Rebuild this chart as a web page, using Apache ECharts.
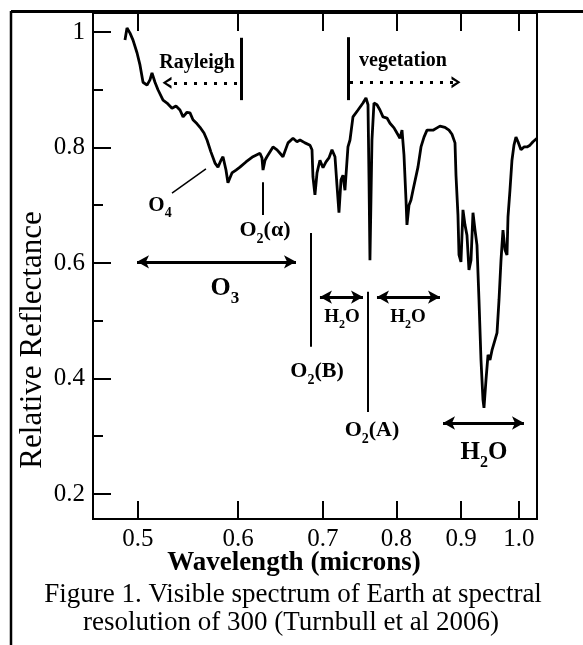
<!DOCTYPE html>
<html>
<head>
<meta charset="utf-8">
<script src="https://cdn.jsdelivr.net/npm/echarts@6/dist/echarts.min.js"></script>
<style>
  html, body { margin: 0; padding: 0; background: #fff; }
  #chart { width: 583px; height: 645px; }
</style>
</head>
<body>
<div id="chart"></div>
<script>
// spectrum (wavelength in microns, relative reflectance)
var wavelength = [0.4883, 0.4901, 0.4928, 0.4955, 0.4991, 0.5018, 0.5046, 0.5083, 0.5110, 0.5129,
  0.5157, 0.5185, 0.5233, 0.5271, 0.5319, 0.5358, 0.5397, 0.5427, 0.5466, 0.5496,
  0.5526, 0.5567, 0.5597, 0.5638, 0.5669, 0.5710, 0.5752, 0.5783, 0.5815, 0.5836,
  0.5868, 0.5889, 0.5932, 0.5976, 0.6019, 0.6085, 0.6163, 0.6242, 0.6265, 0.6277,
  0.6300, 0.6322, 0.6392, 0.6439, 0.6474, 0.6509, 0.6569, 0.6629, 0.6677, 0.6714,
  0.6775, 0.6837, 0.6862, 0.6874, 0.6899, 0.6925, 0.6962, 0.7001, 0.7039, 0.7077,
  0.7116, 0.7155, 0.7181, 0.7207, 0.7234, 0.7260, 0.7286, 0.7326, 0.7353, 0.7393,
  0.7461, 0.7529, 0.7570, 0.7598, 0.7612, 0.7625, 0.7639, 0.7653, 0.7681, 0.7723,
  0.7765, 0.7808, 0.7865, 0.7908, 0.7966, 0.8009, 0.8053, 0.8083, 0.8112, 0.8142,
  0.8156, 0.8186, 0.8216, 0.8246, 0.8321, 0.8367, 0.8413, 0.8459, 0.8552, 0.8614,
  0.8661, 0.8740, 0.8804, 0.8852, 0.8901, 0.8917, 0.8949, 0.8966, 0.8998, 0.9031,
  0.9064, 0.9097, 0.9130, 0.9164, 0.9197, 0.9231, 0.9264, 0.9298, 0.9332, 0.9366,
  0.9383, 0.9417, 0.9452, 0.9486, 0.9521, 0.9573, 0.9608, 0.9643, 0.9678, 0.9713,
  0.9748, 0.9784, 0.9802, 0.9837, 0.9873, 0.9909, 0.9945, 0.9982, 1.0036, 1.0091,
  1.0147, 1.0202, 1.0258, 1.0333];
var reflectance = [0.986, 1.007, 0.998, 0.986, 0.964, 0.943, 0.913, 0.908, 0.917, 0.929,
  0.913, 0.900, 0.882, 0.877, 0.868, 0.872, 0.865, 0.853, 0.861, 0.860,
  0.848, 0.841, 0.835, 0.825, 0.813, 0.792, 0.773, 0.766, 0.778, 0.784,
  0.761, 0.739, 0.756, 0.761, 0.766, 0.775, 0.784, 0.790, 0.782, 0.761,
  0.778, 0.784, 0.801, 0.796, 0.790, 0.784, 0.808, 0.816, 0.810, 0.813,
  0.808, 0.804, 0.796, 0.749, 0.718, 0.756, 0.778, 0.765, 0.775, 0.782,
  0.796, 0.784, 0.735, 0.687, 0.744, 0.752, 0.726, 0.801, 0.813, 0.853,
  0.865, 0.877, 0.886, 0.874, 0.744, 0.605, 0.709, 0.813, 0.877, 0.874,
  0.865, 0.853, 0.851, 0.842, 0.834, 0.825, 0.816, 0.830, 0.787, 0.709,
  0.666, 0.700, 0.709, 0.726, 0.766, 0.801, 0.818, 0.830, 0.830, 0.834,
  0.837, 0.835, 0.830, 0.823, 0.808, 0.752, 0.683, 0.614, 0.602, 0.692,
  0.666, 0.648, 0.588, 0.605, 0.687, 0.657, 0.631, 0.536, 0.432, 0.363,
  0.349, 0.397, 0.441, 0.432, 0.449, 0.467, 0.479, 0.536, 0.605, 0.657,
  0.623, 0.614, 0.680, 0.726, 0.778, 0.804, 0.818, 0.810, 0.796, 0.801,
  0.801, 0.804, 0.810, 0.816];

var xTicks = [0.5, 0.6, 0.7, 0.8, 0.9, 1.0];
var xTickLabels = ['0.5', '0.6', '0.7', '0.8', '0.9', '1.0'];
var yTicks = [0.2, 0.4, 0.6, 0.8, 1.0];
var yTickLabels = ['0.2', '0.4', '0.6', '0.8', '1'];
var yMinorTicks = [0.3, 0.5, 0.7, 0.9];

// axis ranges (wavelength axis is logarithmic)
var xMin = 0.4607, xMax = 1.0333;
var yMin = 0.1567, yMax = 1.0329;

var serif = "'Liberation Serif', 'Times New Roman', serif";
var lx = function (w) { return Math.log(w); };

var spectrum = wavelength.map(function (w, i) {
  return [lx(w), reflectance[i]];
});

// label text: O2, H2O ... with subscripts
function chem(size) {
  var sub = Math.round(size * 0.65);
  return {
    m: { fontSize: size, fontWeight: 'bold', fontFamily: serif, lineHeight: size },
    s: { fontSize: sub, fontWeight: 'bold', fontFamily: serif, lineHeight: sub,
      padding: [Math.round(size * 0.8), 0, 0, 0] }
  };
}

function note(w, r, text, size) {
  return {
    coord: [lx(w), r],
    label: { formatter: text, rich: chem(size), fontSize: size, fontWeight: 'bold', fontFamily: serif }
  };
}

var chevron = 'path://M0,12 L10,0 L20,12 L15,12 L10,5 L5,12 Z';

function seg(w1, r1, w2, r2, width, opts) {
  opts = opts || {};
  return [
    { coord: [lx(w1), r1], symbol: opts.from || 'none', symbolSize: opts.size || [10, 12],
      lineStyle: { color: '#000', width: width, type: opts.type || 'solid' } },
    { coord: [lx(w2), r2], symbol: opts.to || 'none', symbolSize: opts.size || [10, 12] }
  ];
}

var notes = [
  note(0.5567, 0.946, 'Rayleigh', 20),
  note(0.8097, 0.950, 'vegetation', 20),
  note(0.5204, 0.700, '{m|O}{s|4}', 21),
  note(0.6300, 0.657, '{m|O}{s|2}{m|(α)}', 22),
  note(0.5857, 0.557, '{m|O}{s|3}', 26),
  note(0.6925, 0.413, '{m|O}{s|2}{m|(B)}', 22),
  note(0.7247, 0.506, '{m|H}{s|2}{m|O}', 19),
  note(0.8171, 0.506, '{m|H}{s|2}{m|O}', 19),
  note(0.7653, 0.311, '{m|O}{s|2}{m|(A)}', 22),
  note(0.9383, 0.271, '{m|H}{s|2}{m|O}', 25)
];

var guides = [
  seg(0.6030, 0.990, 0.6030, 0.882, 3),
  seg(0.5987, 0.912, 0.5271, 0.912, 3, { type: [3, 7], to: chevron, size: [12, 9] }),
  seg(0.7326, 0.991, 0.7326, 0.882, 3),
  seg(0.7353, 0.913, 0.8917, 0.913, 3, { type: [3, 7], to: chevron, size: [12, 9] }),
  seg(0.5319, 0.721, 0.5658, 0.763, 1.5),
  seg(0.6277, 0.740, 0.6277, 0.683, 2),
  seg(0.4991, 0.602, 0.6665, 0.602, 3, { from: 'arrow', to: 'arrow' }),
  seg(0.6849, 0.652, 0.6849, 0.455, 2),
  seg(0.6962, 0.541, 0.7529, 0.541, 3, { from: 'arrow', to: 'arrow' }),
  seg(0.7598, 0.550, 0.7598, 0.342, 2),
  seg(0.7723, 0.541, 0.8661, 0.541, 3, { from: 'arrow', to: 'arrow' }),
  seg(0.8709, 0.323, 1.0091, 0.323, 3, { from: 'arrow', to: 'arrow' })
];

function pick(ticks, labels, fn) {
  return function (v) {
    for (var i = 0; i < ticks.length; i++) {
      if (Math.abs(v - fn(ticks[i])) < 1e-6) return labels[i];
    }
    return '';
  };
}
var same = function (v) { return v; };

function frameLine() {
  return { show: true, onZero: false, lineStyle: { color: '#000', width: 2 } };
}

var chart = echarts.init(document.getElementById('chart'));
chart.setOption({
  animation: false,
  grid: { left: 93, right: 46, top: 13, bottom: 126, show: true, borderColor: '#000', borderWidth: 2 },
  xAxis: [
    {
      type: 'value', position: 'bottom', min: lx(xMin), max: lx(xMax),
      axisLine: frameLine(),
      axisTick: { inside: true, length: 18, lineStyle: { color: '#000', width: 2 }, customValues: xTicks.map(lx) },
      axisLabel: { customValues: xTicks.map(lx), formatter: pick(xTicks, xTickLabels, lx),
        fontSize: 25, fontFamily: serif, color: '#000', margin: 8 },
      splitLine: { show: false }
    },
    {
      type: 'value', position: 'top', min: lx(xMin), max: lx(xMax),
      axisLine: frameLine(),
      axisTick: { inside: true, length: 18, lineStyle: { color: '#000', width: 2 }, customValues: xTicks.map(lx) },
      axisLabel: { show: false },
      splitLine: { show: false }
    }
  ],
  yAxis: [
    {
      type: 'value', position: 'left', min: yMin, max: yMax,
      axisLine: frameLine(),
      axisTick: { show: true, inside: true, length: 18, lineStyle: { color: '#000', width: 2 }, customValues: yTicks },
      axisLabel: { customValues: yTicks, formatter: pick(yTicks, yTickLabels, same),
        fontSize: 25, fontFamily: serif, color: '#000', margin: 8 },
      splitLine: { show: false }
    },
    {
      // minor ticks: a right-hand axis pulled across to the left edge
      type: 'value', position: 'right', offset: -444, min: yMin, max: yMax,
      axisLine: { show: false, onZero: false },
      axisTick: { show: true, inside: false, length: 10, lineStyle: { color: '#000', width: 2 }, customValues: yMinorTicks },
      axisLabel: { show: false },
      splitLine: { show: false }
    }
  ],
  series: [
    {
      type: 'line',
      data: spectrum,
      showSymbol: false,
      silent: true,
      lineStyle: { color: '#000', width: 2.8 },
      markLine: {
        silent: true,
        animation: false,
        symbol: ['none', 'none'],
        label: { show: false },
        emphasis: { disabled: true },
        data: guides
      },
      markPoint: {
        silent: true,
        animation: false,
        symbol: 'circle',
        symbolSize: 1,
        itemStyle: { color: 'rgba(0,0,0,0)' },
        label: { show: true, position: 'inside', color: '#000' },
        data: notes
      }
    }
  ],
  graphic: [
    { type: 'line', shape: { x1: 11, y1: 11.5, x2: 583, y2: 11.5 }, style: { stroke: '#000', lineWidth: 3 } },
    { type: 'line', shape: { x1: 11, y1: 11, x2: 11, y2: 645 }, style: { stroke: '#000', lineWidth: 2.5 } },
    { type: 'text', x: 33, y: 340, rotation: Math.PI / 2,
      style: { text: 'Relative Reflectance', font: '31px ' + serif, fill: '#000', align: 'center', verticalAlign: 'middle' } },
    { type: 'text', x: 294, y: 563,
      style: { text: 'Wavelength (microns)', font: 'bold 27px ' + serif, fill: '#000', align: 'center', verticalAlign: 'middle' } },
    { type: 'text', x: 293, y: 595,
      style: { text: 'Figure 1. Visible spectrum of Earth at spectral', font: '27px ' + serif, fill: '#000', align: 'center', verticalAlign: 'middle' } },
    { type: 'text', x: 291, y: 623,
      style: { text: 'resolution of 300 (Turnbull et al 2006)', font: '27px ' + serif, fill: '#000', align: 'center', verticalAlign: 'middle' } }
  ]
});
</script>
</body>
</html>
